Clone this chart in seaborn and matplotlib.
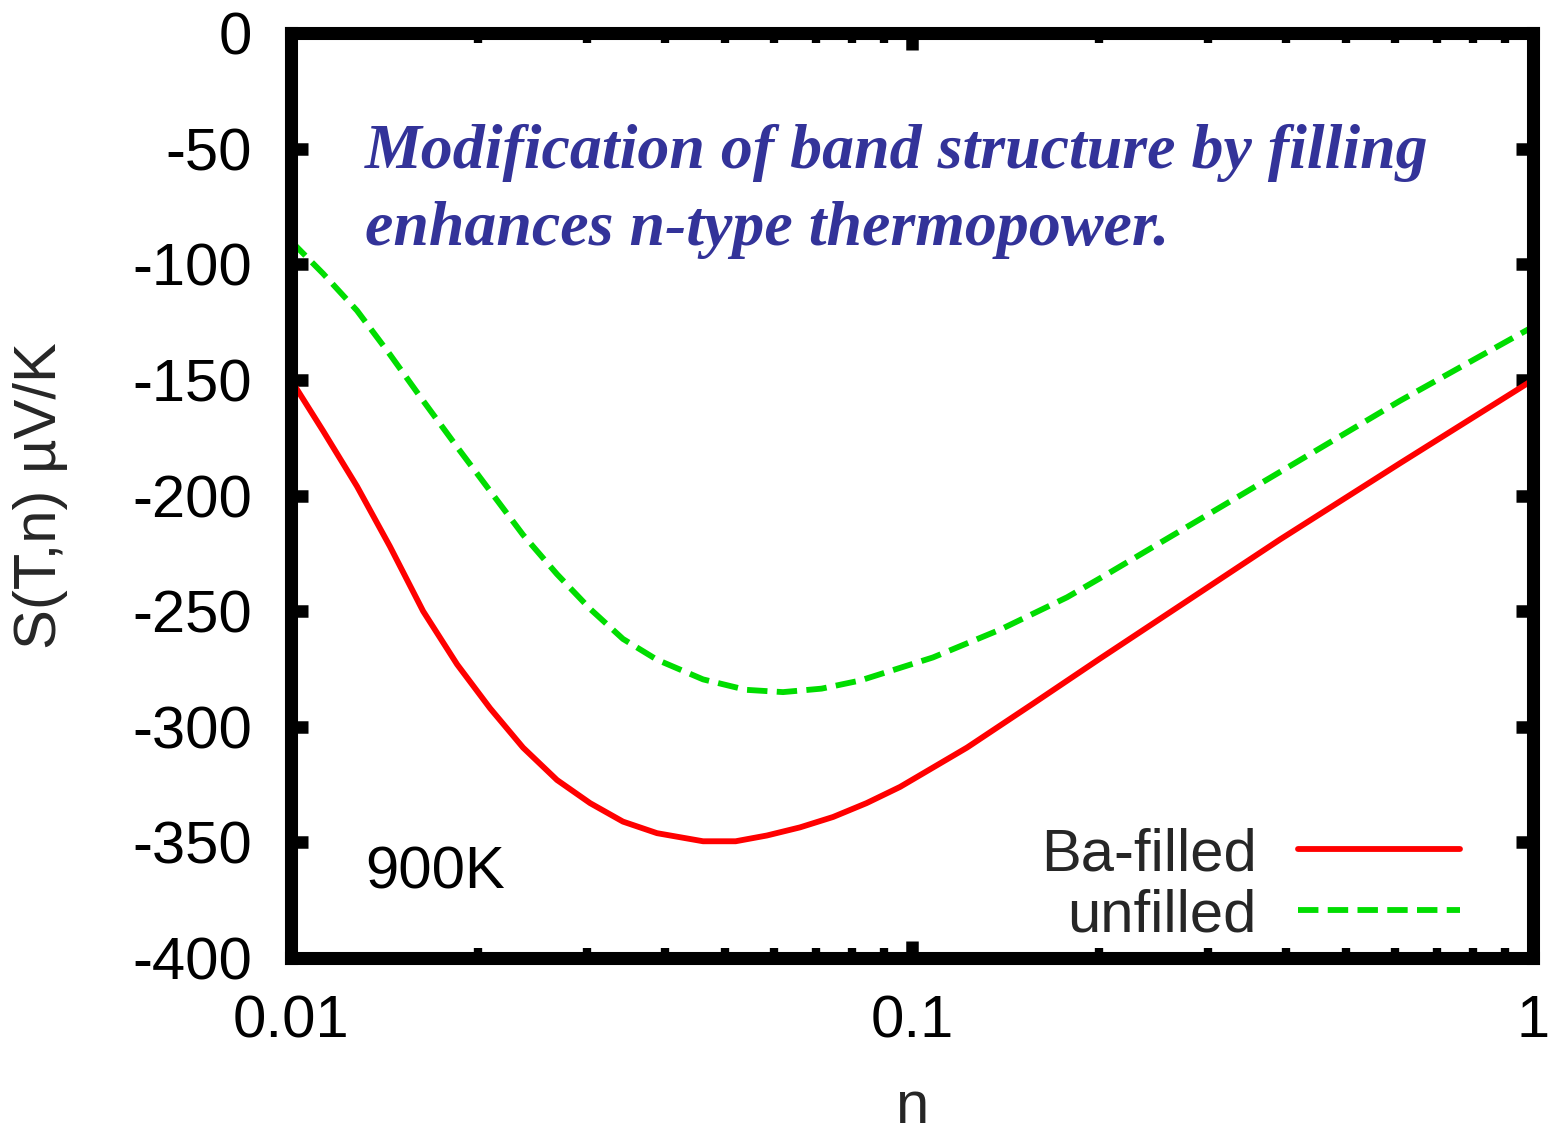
import numpy as np
import pandas as pd
import seaborn as sns
import matplotlib.pyplot as plt
from matplotlib.ticker import FixedLocator, FixedFormatter, LogLocator, NullFormatter

# values
n_ba = [0.01, 0.01126, 0.01277, 0.01443, 0.01632, 0.01851, 0.02092, 0.02364, 0.02681,
        0.03031, 0.03424, 0.03885, 0.04608, 0.0520, 0.0584, 0.0660, 0.07462, 0.0845,
        0.09566, 0.1226, 0.1566, 0.2008, 0.3914, 0.611, 1.0]
s_ba = [-150, -172, -196, -222, -250, -273, -292, -309, -323,
        -333, -341, -346, -349.5, -349.5, -347, -343.5, -339, -333,
        -326, -309, -290, -270.5, -219, -186, -150]

n_un = [0.01, 0.01126, 0.01277, 0.01443, 0.01632, 0.01851, 0.02092, 0.02364, 0.02681,
        0.03031, 0.03424, 0.03885, 0.04608, 0.0540, 0.06198, 0.0715, 0.08249, 0.1081,
        0.1386, 0.1777, 0.2046, 0.4017, 0.611, 1.0]
s_un = [-90, -104, -120, -139, -159, -179, -198, -217, -234,
        -249, -262, -271, -279.5, -284, -285, -283.5, -280, -270,
        -258, -244, -234.5, -188, -159, -127]

x_ticks = [0.01, 0.1, 1]
x_tick_labels = ["0.01", "0.1", "1"]
y_ticks = [0, -50, -100, -150, -200, -250, -300, -350, -400]

sns.set_theme(style="white")
plt.rcParams["font.family"] = ["Liberation Sans", "DejaVu Sans"]

fs = 43
fig = plt.figure(figsize=(15.48, 11.35), dpi=100)
ax = fig.add_axes([0.188, 0.1559, 0.8023, 0.8150])

sns.lineplot(x=n_ba, y=s_ba, ax=ax, color="#ff0000", lw=4.2,
             label="Ba-filled", sort=False)
sns.lineplot(x=n_un, y=s_un, ax=ax, color="#00dd00", lw=4.2,
             linestyle=(0, (3.5, 1.6)), label="unfilled", sort=False)

ax.set_xscale("log")
ax.set_xlim(0.01, 1)
ax.set_ylim(-400, 0)

ax.xaxis.set_major_locator(FixedLocator(x_ticks))
ax.xaxis.set_major_formatter(FixedFormatter(x_tick_labels))
ax.xaxis.set_minor_locator(LogLocator(base=10, subs=np.arange(2, 10)))
ax.xaxis.set_minor_formatter(NullFormatter())
ax.set_yticks(y_ticks)
ax.set_yticklabels([str(v) for v in y_ticks])

for sp in ax.spines.values():
    sp.set_visible(True)
    sp.set_linewidth(9.4)
    sp.set_color("black")

ax.tick_params(axis="both", which="major", direction="in", length=12, width=9,
               color="black", labelsize=fs, labelcolor="black",
               top=True, right=True, bottom=True, left=True)
ax.tick_params(axis="x", which="major", pad=26)
ax.tick_params(axis="y", which="major", pad=28)
ax.tick_params(axis="x", which="minor", direction="in", length=7, width=6,
               color="black", top=True, bottom=True)

ax.set_xlabel("n", fontsize=fs, labelpad=22)
ax.set_ylabel("S(T,n) µV/K", fontsize=fs, labelpad=46)

ax.text(0.0596, 0.0757, "900K", transform=ax.transAxes, fontsize=fs,
        ha="left", va="baseline", color="black")

note_kw = dict(fontsize=46, color="#333399", family=["Liberation Serif", "DejaVu Serif"],
               fontweight="bold", fontstyle="italic", ha="left", va="baseline")
fig.text(365 / 1548, 1 - 168 / 1135, "Modification of band structure by filling", **note_kw)
fig.text(365 / 1548, 1 - 245 / 1135, "enhances n-type thermopower.", **note_kw)

ax.legend(loc="lower right", bbox_to_anchor=(0.941, 0.016), frameon=False,
          markerfirst=False, handlelength=2.7, handletextpad=0.7,
          labelspacing=0.1, borderpad=0, borderaxespad=0, fontsize=fs)

fig.savefig("out.png", dpi=100)
